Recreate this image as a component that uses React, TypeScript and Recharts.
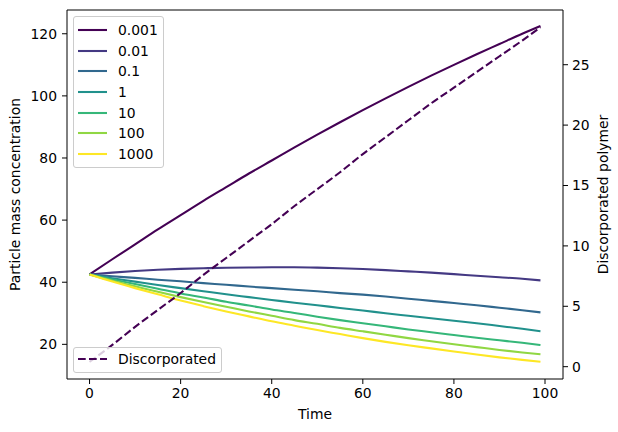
import { LineChart, Line, XAxis, YAxis, Legend, Label, ReferenceLine } from 'recharts';

const time = [0, 5, 10, 15, 20, 25, 30, 35, 40, 45, 50, 55, 60, 65, 70, 75, 80, 85, 90, 95, 99];

const seriesNames = ['0.001', '0.01', '0.1', '1', '10', '100', '1000'];
const seriesColors = ['#440154', '#443983', '#31688e', '#21918c', '#35b779', '#90d743', '#fde725'];

const c0001 = [42.5, 47.4, 52.2, 57.0, 61.6, 66.2, 70.6, 75.0, 79.2, 83.4, 87.5, 91.5, 95.4, 99.2, 102.9, 106.5, 110.0, 113.4, 116.7, 120.0, 122.5];
const c001 = [42.5, 43.1, 43.6, 44.0, 44.3, 44.5, 44.65, 44.75, 44.8, 44.8, 44.7, 44.5, 44.25, 43.9, 43.5, 43.1, 42.6, 42.1, 41.6, 41.1, 40.6];
const c01 = [42.5, 41.9, 41.4, 40.8, 40.3, 39.7, 39.2, 38.6, 38.1, 37.6, 37.1, 36.5, 36.0, 35.4, 34.7, 34.0, 33.3, 32.6, 31.8, 31.0, 30.3];
const c1 = [42.5, 41.3, 40.2, 39.1, 38.1, 37.1, 36.1, 35.2, 34.3, 33.4, 32.6, 31.7, 30.9, 30.0, 29.2, 28.4, 27.6, 26.8, 25.9, 25.0, 24.2];
const c10 = [42.5, 40.9, 39.4, 37.9, 36.4, 35.1, 33.7, 32.5, 31.2, 30.1, 28.9, 27.8, 26.8, 25.8, 24.8, 23.9, 23.0, 22.1, 21.3, 20.5, 19.8];
const c100 = [42.5, 40.5, 38.7, 36.9, 35.2, 33.6, 32.1, 30.6, 29.2, 27.8, 26.6, 25.3, 24.2, 23.1, 22.0, 21.0, 20.0, 19.1, 18.2, 17.4, 16.8];
const c1000 = [42.5, 40.2, 38.1, 36.1, 34.1, 32.3, 30.6, 29.0, 27.4, 26.0, 24.6, 23.3, 22.0, 20.8, 19.7, 18.7, 17.7, 16.7, 15.8, 15.0, 14.4];
const discorporated = [0.4, 1.8, 3.3, 4.7, 6.1, 7.6, 9.0, 10.4, 11.8, 13.3, 14.7, 16.1, 17.6, 19.0, 20.4, 21.8, 23.1, 24.4, 25.7, 27.0, 28.1];

const concentrations = [c0001, c001, c01, c1, c10, c100, c1000];

const xTicks = [0, 20, 40, 60, 80, 100];
const leftTicks = [20, 40, 60, 80, 100, 120];
const rightTicks = [0, 5, 10, 15, 20, 25];

const data = time.map((t, i) => {
  const row: Record<string, number> = { t, disc: discorporated[i] };
  concentrations.forEach((s, k) => {
    row['s' + k] = s[i];
  });
  return row;
});

const FONT = '"DejaVu Sans", sans-serif';
const FS = 13.9;
const DASH = '7.7 3.3';
const LEFT_DOMAIN: [number, number] = [8.84, 127.65];

const boxStyle: React.CSSProperties = {
  position: 'absolute',
  left: 73,
  background: 'rgba(255,255,255,0.8)',
  border: '1px solid #cccccc',
  borderRadius: 3,
  padding: '3px 5px 3px 4px',
  fontFamily: FONT,
  fontSize: FS,
  color: '#000',
  boxSizing: 'border-box',
};

function Swatch({ color, dashed }: { color: string; dashed?: boolean }) {
  return (
    <svg width={29} height={10} style={{ marginRight: 11, display: 'block' }}>
      <line x1={0} y1={5} x2={29} y2={5} stroke={color} strokeWidth={2.08} strokeDasharray={dashed ? DASH : undefined} />
    </svg>
  );
}

function Row({ color, name, dashed }: { color: string; name: string; dashed?: boolean }) {
  return (
    <div style={{ display: 'flex', alignItems: 'center', height: 20.6, whiteSpace: 'nowrap' }}>
      <Swatch color={color} dashed={dashed} />
      <span>{name}</span>
    </div>
  );
}

function Legends() {
  return (
    <div style={{ position: 'relative', width: 618, height: 432 }}>
      <div style={{ ...boxStyle, top: 16 }}>
        {seriesNames.map((n, i) => (
          <Row key={n} name={n} color={seriesColors[i]} />
        ))}
      </div>
      <div style={{ ...boxStyle, top: 347, padding: '1px 5px 2px 4px' }}>
        <Row name="Discorporated" color={seriesColors[0]} dashed />
      </div>
    </div>
  );
}

const axisLabel = (text: string, dx: number, angle: number) => (props: any) => {
  const vb = props.viewBox || { x: 0, y: 0, width: 0, height: 0 };
  const cx = vb.x + dx;
  const cy = vb.y + vb.height / 2;
  return (
    <text
      x={cx}
      y={cy}
      transform={`rotate(${angle} ${cx} ${cy})`}
      textAnchor="middle"
      dominantBaseline="central"
      fontFamily={FONT}
      fontSize={FS}
      fill="#000"
    >
      {text}
    </text>
  );
};

const timeLabel = (props: any) => {
  const vb = props.viewBox || { x: 0, y: 0, width: 0, height: 0 };
  return (
    <text x={vb.x + vb.width / 2} y={vb.y + 35} textAnchor="middle" dominantBaseline="central" fontFamily={FONT} fontSize={FS} fill="#000">
      Time
    </text>
  );
};

const tickStyle = { fontFamily: FONT, fontSize: FS, fill: '#000' };
const lineStyle = { stroke: '#000', strokeWidth: 1 };

export default function App() {
  return (
    <div style={{ position: 'absolute', left: 0, top: 0, width: 618, height: 432, background: '#fff' }}>
      <LineChart width={618} height={432} data={data} margin={{ top: 10, right: 0, left: 0, bottom: 0 }}>
        <XAxis
          dataKey="t"
          type="number"
          domain={[-4.95, 103.95]}
          ticks={xTicks}
          height={53}
          tick={tickStyle}
          tickSize={5}
          tickMargin={4}
          axisLine={lineStyle}
          tickLine={lineStyle}
          allowDataOverflow
        >
          <Label content={timeLabel} />
        </XAxis>
        <YAxis
          yAxisId="left"
          type="number"
          domain={LEFT_DOMAIN}
          ticks={leftTicks}
          width={67}
          tick={tickStyle}
          tickSize={5}
          tickMargin={5}
          axisLine={lineStyle}
          tickLine={lineStyle}
          allowDataOverflow
        >
          <Label content={axisLabel('Particle mass concentration', 15, -90)} />
        </YAxis>
        <YAxis
          yAxisId="right"
          orientation="right"
          type="number"
          domain={[-1.02, 29.53]}
          ticks={rightTicks}
          width={55}
          tick={tickStyle}
          tickSize={5}
          tickMargin={4}
          axisLine={lineStyle}
          tickLine={lineStyle}
          allowDataOverflow
        >
          <Label content={axisLabel('Discorporated polymer', 40, -90)} />
        </YAxis>
        <ReferenceLine yAxisId="left" y={LEFT_DOMAIN[1]} stroke="#000" strokeWidth={1} />
        {seriesNames.map((n, k) => (
          <Line
            key={n}
            yAxisId="left"
            dataKey={'s' + k}
            name={n}
            type="monotone"
            stroke={seriesColors[k]}
            strokeWidth={2.08}
            dot={false}
            isAnimationActive={false}
          />
        ))}
        <Line
          yAxisId="right"
          dataKey="disc"
          name="Discorporated"
          type="monotone"
          stroke={seriesColors[0]}
          strokeWidth={2.08}
          strokeDasharray={DASH}
          dot={false}
          isAnimationActive={false}
        />
        <Legend
          layout="horizontal"
          verticalAlign="middle"
          align="center"
          content={<Legends />}
          wrapperStyle={{ position: 'absolute', left: 0, top: 0, width: 618, height: 432, pointerEvents: 'none' }}
        />
      </LineChart>
    </div>
  );
}
